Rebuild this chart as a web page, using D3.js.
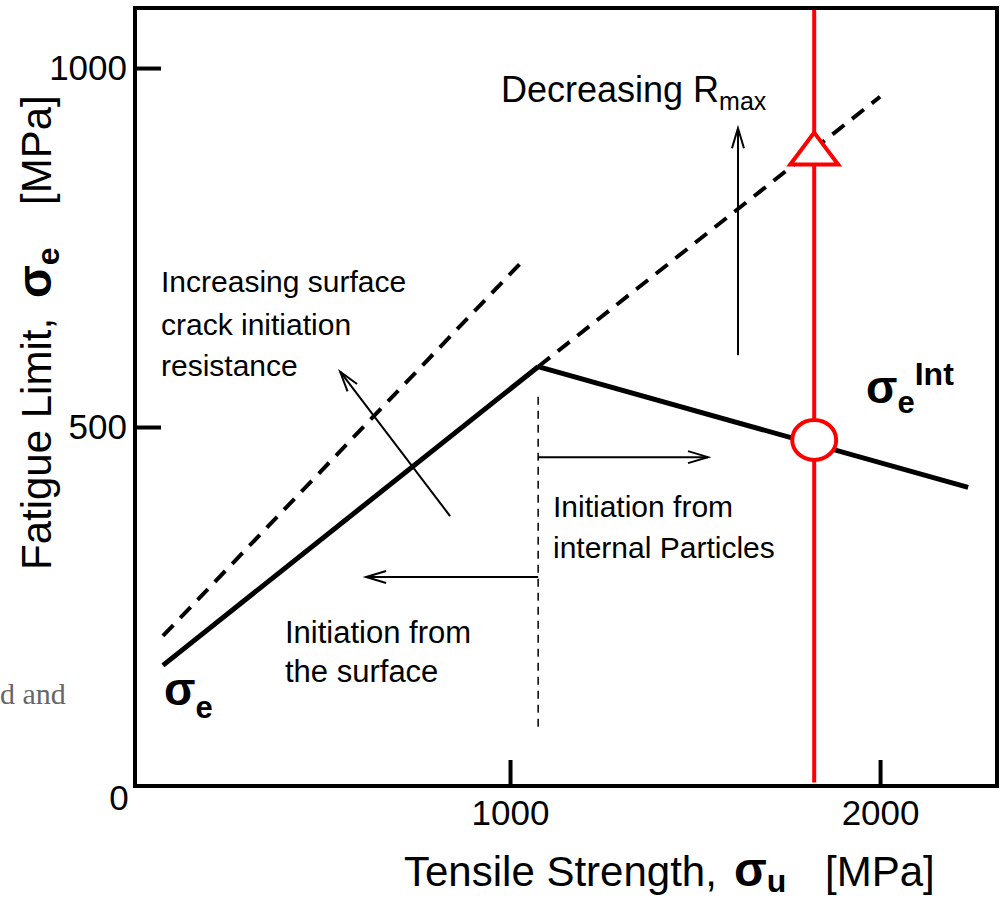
<!DOCTYPE html>
<html><head><meta charset="utf-8">
<script src="https://cdn.jsdelivr.net/npm/d3@7"></script>
<style>body{margin:0;background:#fff} svg{display:block} text{font-family:"Liberation Sans",Arial,sans-serif}</style>
</head><body><svg id="c" width="1003" height="899"></svg>
<script>
// ---- data (MPa) ----
const xTicks = [1000, 2000];
const yTicks = [500, 1000];
const surfaceLine = [[62, 168], [1076, 584]];
const internalLine = [[1076, 584], [2238, 416]];
const extLine = [[1076, 584], [2000, 960]];
const improvedSurfaceLine = [[62, 209], [1041, 735]];
const transitionLine = [[1076, 542], [1076, 82]];
const arrowRight = [[1076, 458], [1535, 458]];
const arrowLeft = [[1076, 291], [611, 291]];
const arrowUp = [[1616, 600], [1616, 916]];
const arrowDiag = [[838, 376], [541, 577]];
const redLine = [[1822, 5], [1822, 1083]];
const circlePt = [1822, 482];
const trianglePt = [1822, 885];

const svg = d3.select("#c");
const x = d3.scaleLinear().domain([-13.5, 2316]).range([135, 997]);
const y = d3.scaleLinear().domain([0, 1083.6]).range([786, 8]);
const line = d3.line().x(d => x(d[0])).y(d => y(d[1]));

// gray fragment at left
svg.append("text").attr("x", 0).attr("y", 704).style("font-family", "'Liberation Serif',serif")
  .style("font-size", "30px").attr("fill", "#666").text("d and");

function path(data, w, dash, color) {
  const p = svg.append("path").datum(data).attr("d", line).attr("fill", "none")
    .attr("stroke", color || "#000").attr("stroke-width", w);
  if (dash) p.attr("stroke-dasharray", dash);
  return p;
}
function arrow(data) {
  path(data, 2);
  const [a, b] = data;
  const x1 = x(a[0]), y1 = y(a[1]), x2 = x(b[0]), y2 = y(b[1]);
  const ang = Math.atan2(y2 - y1, x2 - x1);
  const L = 20, W = 6;
  const bx = x2 - L * Math.cos(ang), by = y2 - L * Math.sin(ang);
  const nx = -Math.sin(ang) * W, ny = Math.cos(ang) * W;
  svg.append("path").attr("d", `M${bx + nx},${by + ny}L${x2},${y2}L${bx - nx},${by - ny}`)
    .attr("fill", "none").attr("stroke", "#000").attr("stroke-width", 2);
}

path(transitionLine, 1.5, "8,6");
arrow(arrowRight);
arrow(arrowLeft);
arrow(arrowUp);
arrow(arrowDiag);
path(improvedSurfaceLine, 4, "15,10");
path(extLine, 4, "15,10");
path(surfaceLine, 5);
path(internalLine, 5);
path(redLine, 4, null, "#ff0000");
svg.append("ellipse").attr("cx", x(circlePt[0])).attr("cy", y(circlePt[1])).attr("rx", 22).attr("ry", 20)
  .attr("fill", "#fff").attr("stroke", "#ff0000").attr("stroke-width", 4);
svg.append("path").attr("transform", `translate(${x(trianglePt[0])},${y(trianglePt[1])})`)
  .attr("d", "M0,-18L24,14L-24,14Z").attr("fill", "#fff").attr("stroke", "#ff0000").attr("stroke-width", 4);

// frame
svg.append("rect").attr("x", 135).attr("y", 8).attr("width", 862).attr("height", 778)
  .attr("fill", "none").attr("stroke", "#000").attr("stroke-width", 4);

// axes
const ya = svg.append("g").attr("transform", "translate(135,0)")
  .call(d3.axisLeft(y).tickValues(yTicks).tickSize(-26).tickPadding(8).tickFormat(d3.format("d")));
const xa = svg.append("g").attr("transform", "translate(0,786)")
  .call(d3.axisBottom(x).tickValues(xTicks).tickSize(-26).tickPadding(14).tickFormat(d3.format("d")));
[ya, xa].forEach(g => {
  g.select(".domain").remove();
  g.selectAll(".tick line").attr("stroke", "#000").attr("stroke-width", 4);
  g.selectAll(".tick text").style("font-family", "'Liberation Sans',Arial,sans-serif").style("font-size", "35px").attr("fill", "#000");
});
svg.append("text").attr("x", 119).attr("y", 810).attr("text-anchor", "middle").style("font-size", "35px").text("0");

// axis titles
const xt = svg.append("text").attr("x", 404).attr("y", 886).style("font-size", "42px");
xt.append("tspan").text("Tensile Strength,");
xt.append("tspan").attr("x", 734).style("font-weight", "bold").style("font-size", "48px").text("σ");
xt.append("tspan").attr("dy", 6).style("font-weight", "bold").style("font-size", "32px").text("u");
xt.append("tspan").attr("dy", -6).attr("x", 825).text("[MPa]");

const yt = svg.append("text").attr("transform", "translate(51,570) rotate(-90)").style("font-size", "42px");
yt.append("tspan").text("Fatigue Limit,");
yt.append("tspan").attr("x", 272).style("font-weight", "bold").style("font-size", "48px").text("σ");
yt.append("tspan").attr("dy", 8).style("font-weight", "bold").style("font-size", "32px").text("e");
yt.append("tspan").attr("dy", -8).attr("x", 365).text("[MPa]");

// annotations
const dr = svg.append("text").attr("x", 501).attr("y", 102).style("font-size", "36px");
dr.append("tspan").text("Decreasing R");
dr.append("tspan").attr("dy", 8).style("font-size", "25px").text("max");

function multi(lines, x0, ys, fs) {
  lines.forEach((t, i) => svg.append("text").attr("x", x0).attr("y", ys[i]).style("font-size", fs + "px").text(t));
}
multi(["Increasing surface", "crack initiation", "resistance"], 161, [292, 335, 376], 30);
multi(["Initiation from", "internal Particles"], 553, [517, 558], 30);
multi(["Initiation from", "the surface"], 285, [643, 682], 31);

const s1 = svg.append("text").attr("x", 164).attr("y", 705).style("font-weight", "bold").style("font-size", "46px");
s1.append("tspan").text("σ");
s1.append("tspan").attr("dy", 13).style("font-size", "31px").text("e");

const s2 = svg.append("text").attr("x", 866).attr("y", 403).style("font-weight", "bold").style("font-size", "46px");
s2.append("tspan").text("σ");
s2.append("tspan").attr("dy", 10).style("font-size", "31px").text("e");
s2.append("tspan").attr("dy", -28).style("font-size", "32px").text("Int");
</script></body></html>
